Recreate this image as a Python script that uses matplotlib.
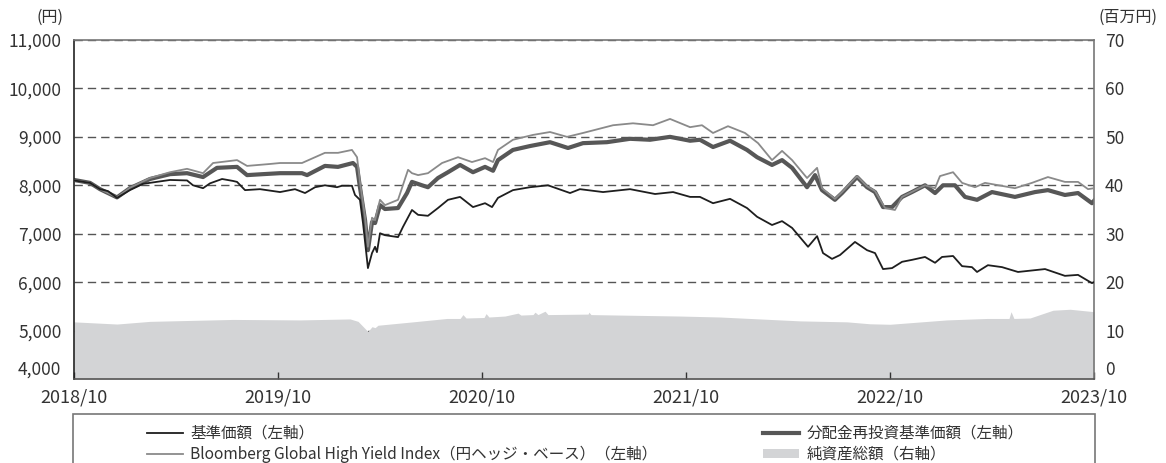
import matplotlib
matplotlib.use("Agg")
import matplotlib.pyplot as plt
from matplotlib.lines import Line2D
from matplotlib.patches import Patch, Rectangle

plt.rcParams['font.family'] = ['Noto Sans CJK JP', 'DejaVu Sans']
txt_color = '#333333'

# months elapsed since 2018/10
nav_t = [0.0, 0.94, 1.53, 2.0, 2.53, 3.29, 4.06, 5.65, 6.65, 7.0, 7.59, 8.0, 8.71, 9.35, 9.59,
         10.06, 10.94, 12.12, 13.0, 13.59, 14.18, 14.76, 15.47, 15.76, 16.35, 16.53, 16.82, 17.0,
         17.29, 17.53, 17.71, 17.82, 18.0, 18.29, 19.06, 19.35, 19.88, 20.24, 20.82, 21.41, 22.0,
         22.71, 23.47, 24.18, 24.59, 24.94, 25.82, 26.82, 27.88, 29.18, 29.76, 31.12, 32.71, 34.18,
         35.24, 36.24, 36.82, 37.59, 38.59, 39.59, 40.18, 41.06, 41.65, 42.24, 43.18, 43.71, 44.06,
         44.59, 45.06, 45.94, 46.65, 47.12, 47.59, 48.12, 48.71, 49.29, 50.06, 50.65, 51.06, 51.71,
         52.24, 52.82, 53.12, 53.76, 54.59, 55.53, 57.12, 58.29, 59.06, 59.88, 60.0]
nav = [8100, 8050, 7920, 7880, 7740, 7900, 8030, 8110, 8100, 8000, 7940, 8040, 8130, 8090, 8070,
       7900, 7920, 7860, 7920, 7840, 7960, 8000, 7960, 7990, 7990, 7800, 7700, 7220,
       6290, 6600, 6730, 6620, 7010, 6970, 6930, 7140, 7490, 7390, 7370, 7530, 7700,
       7760, 7550, 7630, 7550, 7740, 7900, 7960, 8000, 7840, 7920, 7860, 7920, 7820,
       7860, 7760, 7760, 7630, 7720, 7530, 7350, 7180, 7260, 7120, 6730, 6950, 6600,
       6480, 6560, 6830, 6660, 6600, 6270, 6290, 6420, 6460, 6520, 6400, 6520, 6540,
       6330, 6310, 6210, 6350, 6310, 6210, 6270, 6130, 6150, 5980, 6000]

reinv_t = [0.0, 0.94, 1.53, 2.53, 3.29, 4.47, 5.65, 6.65, 7.59, 8.41, 9.59, 10.18, 11.12, 12.12,
           13.41, 13.71, 14.76, 15.53, 16.41, 16.65, 16.82, 17.12, 17.29, 17.53, 17.71, 18.0, 18.29,
           19.06, 19.59, 19.88, 20.47, 20.82, 21.41, 22.0, 22.71, 23.47, 24.18, 24.65, 24.94, 25.82,
           26.82, 28.0, 29.06, 29.94, 31.35, 32.71, 33.88, 35.06, 36.24, 36.82, 37.59, 38.59, 39.59,
           40.18, 41.06, 41.65, 42.24, 43.12, 43.59, 44.0, 44.76, 45.18, 46.06, 46.65, 47.12, 47.59,
           48.12, 48.71, 49.29, 50.06, 50.65, 51.12, 51.82, 52.41, 53.12, 54.0, 55.35, 56.53, 57.29,
           58.29, 59.06, 59.88, 60.0]
reinv = [8110, 8050, 7920, 7750, 7940, 8130, 8230, 8250, 8170, 8360, 8380, 8210, 8230, 8250,
         8250, 8210, 8400, 8380, 8460, 8380, 7960, 7280, 6660, 7240, 7220, 7590, 7510,
         7530, 7840, 8070, 8000, 7960, 8150, 8270, 8420, 8270, 8380, 8300, 8520, 8730,
         8810, 8890, 8770, 8870, 8890, 8960, 8940, 9000, 8920, 8940, 8790, 8920, 8730,
         8580, 8420, 8520, 8360, 7960, 8210, 7900, 7700, 7840, 8170, 7960, 7860, 7550,
         7550, 7760, 7860, 8000, 7840, 8000, 8000, 7760, 7700, 7860, 7760, 7860, 7900,
         7800, 7840, 7630, 7680]

bench_t = [0.0, 0.94, 1.53, 2.53, 3.29, 4.47, 5.65, 6.65, 7.59, 8.18, 9.59, 10.18, 11.53, 12.12,
           13.41, 14.76, 15.53, 16.35, 16.65, 16.82, 17.12, 17.29, 17.53, 17.71, 18.0, 18.29, 19.06,
           19.65, 19.88, 20.24, 20.82, 21.65, 22.59, 23.41, 24.18, 24.65, 24.94, 25.82, 27.0, 28.0,
           29.0, 29.94, 31.71, 32.88, 34.06, 35.06, 36.24, 36.94, 37.59, 38.47, 39.47, 40.24, 41.06,
           41.65, 42.24, 43.12, 43.71, 44.0, 44.76, 45.18, 46.06, 46.65, 47.12, 47.71, 48.29, 48.71,
           50.06, 50.65, 50.94, 51.71, 52.24, 53.0, 53.59, 55.35, 56.35, 57.29, 58.29, 59.06, 59.65,
           60.0]
bench = [8100, 8050, 7920, 7750, 7950, 8150, 8270, 8340, 8250, 8460, 8520, 8400, 8440, 8460,
         8460, 8670, 8670, 8730, 8580, 8070, 7350, 6730, 7330, 7280, 7700, 7590, 7700,
         8320, 8250, 8210, 8250, 8460, 8580, 8480, 8560, 8480, 8730, 8940, 9040, 9100,
         9000, 9080, 9240, 9280, 9240, 9370, 9200, 9240, 9080, 9220, 9080, 8870, 8520,
         8710, 8520, 8150, 8360, 7940, 7720, 7860, 8190, 7980, 7880, 7530, 7490, 7760,
         8000, 7940, 8190, 8270, 8050, 7960, 8050, 7940, 8050, 8170, 8070, 8070, 7920,
         7940]

# net assets, million yen
assets_t = [0.0, 2.53, 4.47, 9.35, 13.29, 16.24, 16.71, 17.29, 17.53, 17.71, 17.88, 19.94, 21.94,
            22.71, 22.88, 23.06, 24.12, 24.24, 24.41, 25.35, 26.12, 26.29, 27.0, 27.12, 27.29, 27.71,
            27.88, 30.24, 30.29, 30.41, 32.12, 35.65, 38.0, 40.35, 42.71, 45.47, 46.82, 48.0, 51.35,
            53.71, 55.0, 55.12, 55.29, 56.24, 57.59, 58.59, 60.0]
assets = [11.8, 11.35, 11.9, 12.3, 12.2, 12.4, 11.9, 9.8, 10.8, 10.6, 11.1, 11.8, 12.5,
          12.5, 13.3, 12.6, 12.7, 13.5, 12.8, 13.0, 13.6, 13.2, 13.3, 13.8, 13.3, 14.0,
          13.3, 13.4, 13.8, 13.3, 13.2, 13.0, 12.8, 12.4, 12.0, 11.8, 11.4, 11.3, 12.2,
          12.5, 12.5, 13.9, 12.5, 12.6, 14.2, 14.4, 13.9]

x_ticks = [0, 12, 24, 36, 48, 60]
x_labels = ['2018/10', '2019/10', '2020/10', '2021/10', '2022/10', '2023/10']
left_ticks = [4000, 5000, 6000, 7000, 8000, 9000, 10000, 11000]
right_ticks = [0, 10, 20, 30, 40, 50, 60, 70]

fig = plt.figure(figsize=(11.66, 4.63), dpi=100)
ax = fig.add_axes([74/1166, 1-379/463, 1020/1166, 339/463])
ax_r = ax.twinx()
ax.set_zorder(ax_r.get_zorder() + 1)
ax.patch.set_visible(False)

# right axis: area + dashed grid underneath
ax_r.set_axisbelow(True)
ax_r.yaxis.grid(True, linestyle=(0, (6, 3.6)), color='#555555', linewidth=1.0)
ax_r.fill_between(assets_t, 0, assets, color='#d3d4d6', linewidth=0, zorder=1)
ax_r.set_ylim(0, 70)
ax_r.set_yticks(right_ticks)
ax_r.set_yticklabels([str(v) for v in right_ticks])
ax_r.tick_params(axis='y', length=0, pad=8, labelsize=12.5, labelcolor=txt_color)
for s in ax_r.spines.values():
    s.set_visible(False)

ax.plot(nav_t, nav, color='#1e1e1e', lw=1.3, zorder=4)
ax.plot(bench_t, bench, color='#8a8a8a', lw=1.3, zorder=3)
ax.plot(reinv_t, reinv, color='#575757', lw=3.0, zorder=2)

ax.set_xlim(0, 60)
ax.set_ylim(4000, 11000)
ax.set_yticks(left_ticks)
ax.set_yticklabels(['{:,}'.format(v) for v in left_ticks])
ax.set_xticks(x_ticks)
ax.set_xticklabels(x_labels)
ax.tick_params(axis='y', length=0, pad=9, labelsize=12.5, labelcolor=txt_color)
ax.tick_params(axis='x', direction='in', length=5, width=1, color='#333333',
               pad=7, labelsize=13, labelcolor=txt_color)

# lowest labels sit just above the bottom spine
ax.get_yticklabels()[0].set_verticalalignment('bottom')
ax_r.get_yticklabels()[0].set_verticalalignment('bottom')

ax.spines['left'].set_color('#222222')
ax.spines['bottom'].set_color('#555555')
ax.spines['top'].set_color('#777777')
ax.spines['right'].set_color('#777777')
for s in ax.spines.values():
    s.set_linewidth(1.2)

fig.text(50/1166, 1-17/463, '(円)', ha='center', va='center', fontsize=11.5, color=txt_color)
fig.text(1128/1166, 1-17/463, '(百万円)', ha='center', va='center', fontsize=11.5, color=txt_color)

# legend box
fig.patches.append(Rectangle((73/1166, -0.05), 1022/1166, 0.05 + 1-414/463,
                             transform=fig.transFigure, fill=False,
                             edgecolor='#777777', linewidth=1.2))

handles = [Line2D([], [], color='#1e1e1e', lw=1.3),
           Line2D([], [], color='#8a8a8a', lw=1.3),
           Line2D([], [], color='#575757', lw=3.0),
           Patch(facecolor='#d3d4d6', edgecolor='none')]
labels = ['基準価額（左軸）',
          'Bloomberg Global High Yield Index（円ヘッジ・ベース）（左軸）',
          '分配金再投資基準価額（左軸）',
          '純資産総額（右軸）']
fig.legend(handles, labels, ncol=2, loc='upper left',
           bbox_to_anchor=(139/1166, 1-417/463), frameon=False,
           fontsize=11.2, handlelength=2.3, handleheight=0.5, handletextpad=0.5,
           columnspacing=6.8, labelspacing=0.25, borderpad=0, labelcolor=txt_color)

fig.savefig('out.png', dpi=100)
